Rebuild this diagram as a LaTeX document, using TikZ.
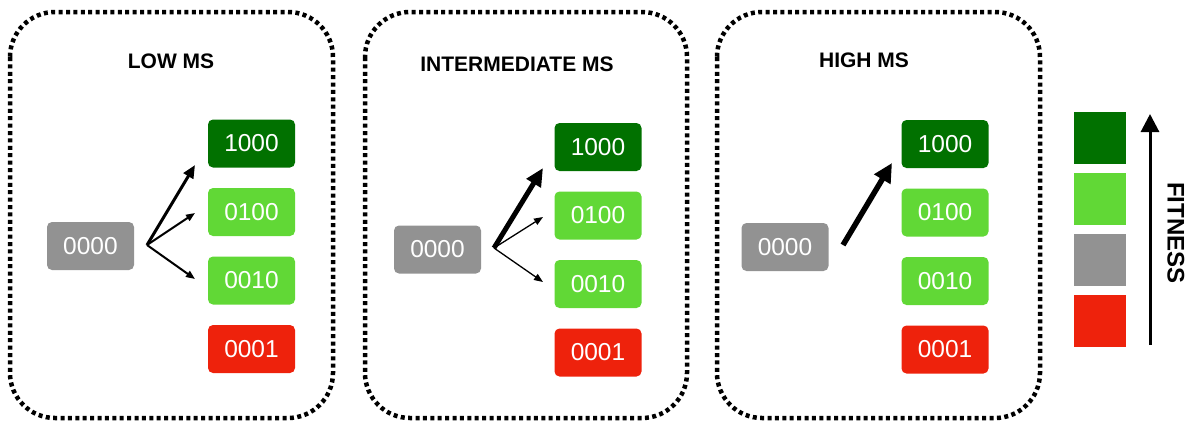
\documentclass[tikz,border=0pt]{standalone}
\usepackage{fontspec}
\setmainfont{Liberation Sans}
\usetikzlibrary{arrows.meta}

\definecolor{fitdark}{HTML}{017100}
\definecolor{fitlight}{HTML}{61D836}
\definecolor{fitgray}{HTML}{929292}
\definecolor{fitred}{HTML}{EE220C}

\tikzset{
  panel/.style={line width=4.5pt, dash pattern=on 4pt off 3.4pt, rounded corners=45pt},
  geno/.style={rounded corners=5pt, minimum width=87pt, minimum height=48pt, inner sep=0pt,
    text=white, font=\fontsize{24.5}{24.5}\selectfont},
  title/.style={font=\bfseries\fontsize{21}{21}\selectfont},
  key/.style={minimum width=52pt, minimum height=52pt, inner sep=0pt},
  thinhead/.style={-{Triangle[length=9pt, width=7pt]}},
}

\begin{document}
\begin{tikzpicture}[x=1pt, y=-1pt]
  \useasboundingbox (0,0) rectangle (1195,421);

  % Panels
  \draw[panel] (10,12) rectangle (333,418);
  \draw[panel] (365,12) rectangle (687,418);
  \draw[panel] (717,12) rectangle (1040,418);

  \node[title] (lo-title) at (171,61) {LOW MS};
  \node[title] (mid-title) at (517,64) {INTERMEDIATE MS};
  \node[title] (hi-title) at (864,60) {HIGH MS};

  % Genotypes
  \foreach \p/\xs/\ys/\xt/\yt in {lo/90.5/246/251.5/143.5, mid/437.5/249.5/598/147, hi/785/247/945/144} {
    \node[geno, fill=fitgray] (\p-0000) at (\xs,\ys) {0000};
    \node[geno, fill=fitdark] (\p-1000) at (\xt,\yt) {1000};
    \node[geno, fill=fitlight] (\p-0100) at (\xt,\yt+68.5) {0100};
    \node[geno, fill=fitlight] (\p-0010) at (\xt,\yt+137) {0010};
    \node[geno, fill=fitred] (\p-0001) at (\xt,\yt+205.5) {0001};
  }

  % Mutations
  \coordinate (lo-src) at (147,245);
  \coordinate (lo-to1000) at (195,165);
  \coordinate (lo-to0100) at (195,213);
  \coordinate (lo-to0010) at (195,279);
  \draw[line width=3pt, -{Triangle[length=13pt, width=11pt]}] (lo-src) -- (lo-to1000);
  \draw[line width=2pt, thinhead] (lo-src) -- (lo-to0100);
  \draw[line width=2pt, thinhead] (lo-src) -- (lo-to0010);

  \coordinate (mid-src) at (494,248);
  \coordinate (mid-to1000) at (543,168);
  \coordinate (mid-to0100) at (543,217);
  \coordinate (mid-to0010) at (543,282);
  \draw[line width=5pt, -{Triangle[length=18pt, width=16pt]}] (mid-src) -- (mid-to1000);
  \draw[line width=1.3pt, thinhead] (mid-src) -- (mid-to0100);
  \draw[line width=1.3pt, thinhead] (mid-src) -- (mid-to0010);

  \coordinate (hi-src) at (843,245);
  \coordinate (hi-to1000) at (892,163);
  \draw[line width=5.5pt, -{Triangle[length=19pt, width=18pt]}] (hi-src) -- (hi-to1000);

  % Fitness scale
  \foreach \y/\c/\name in {137.5/fitdark/k-dark, 199/fitlight/k-light, 260/fitgray/k-gray, 321/fitred/k-red} {
    \node[key, fill=\c] (\name) at (1100,\y) {};
  }
  \coordinate (fit-bot) at (1150,345);
  \coordinate (fit-top) at (1150,114);
  \draw[line width=3pt, -{Triangle[length=18pt, width=18pt]}] (fit-bot) -- (fit-top);
  \node[rotate=-90, font=\bfseries\fontsize{24}{24}\selectfont] (fit-label) at (1176,233) {FITNESS};
\end{tikzpicture}
\end{document}
